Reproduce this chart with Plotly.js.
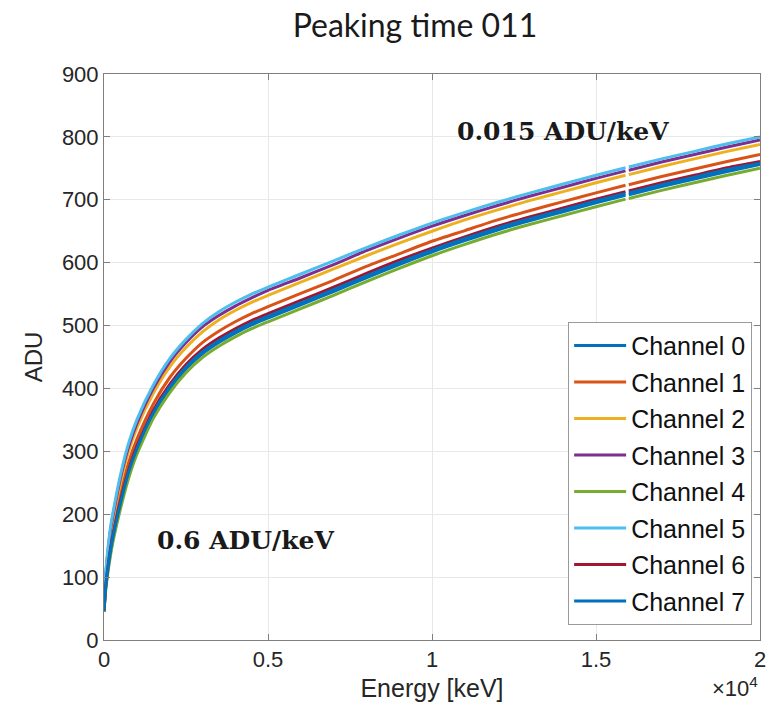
<!DOCTYPE html>
<html>
<head>
<meta charset="utf-8">
<script src="https://cdn.plot.ly/plotly-3.0.1.min.js"></script>
<style>html,body{margin:0;padding:0;background:#fff;}#chart{width:770px;height:717px;}</style>
</head>
<body>
<div id="chart"></div>
<script>
// Energy sample points [keV] (null in each series marks the small white gap seen in the reference)
const energy = [0, 50, 100, 200, 300, 500, 750, 1000, 1500, 2000, 2500, 3000, 3500, 4000, 4500, 5000, 6000, 7000, 8000, 9000, 10000, 11000, 12000, 13000, 14000, 15000, 15900, 15950, 16000, 17000, 18000, 19000, 20000];

const channelNames = ["Channel 0", "Channel 1", "Channel 2", "Channel 3", "Channel 4", "Channel 5", "Channel 6", "Channel 7"];
const channelColors = ["#0072BD", "#D95319", "#EDB120", "#7E2F8E", "#77AC30", "#4DBEEE", "#A2142F", "#0072BD"];

const ch0 = [45, 81, 104, 140, 168, 214, 263, 301, 358, 399, 431, 455, 473, 488, 501, 512, 533, 554, 576, 597, 617, 635, 652, 667, 681, 695, 707, null, 708, 721, 733, 745, 756];
const ch1 = [46, 90, 115, 155, 184, 232, 282, 319, 375, 417, 448, 473, 491, 506, 519, 530, 551, 572, 594, 614, 634, 651, 668, 683, 697, 711, 723, null, 724, 737, 749, 761, 772];
const ch2 = [47, 99, 127, 169, 199, 249, 300, 337, 392, 434, 465, 490, 509, 524, 537, 548, 569, 590, 611, 631, 650, 668, 684, 699, 713, 727, 739, null, 740, 753, 765, 777, 788];
const ch3 = [48, 102, 131, 175, 205, 257, 307, 344, 400, 442, 473, 498, 516, 531, 544, 556, 576, 597, 619, 639, 658, 675, 691, 706, 720, 734, 746, null, 747, 760, 772, 784, 795];
const ch4 = [45, 78, 100, 135, 163, 208, 257, 295, 352, 393, 425, 449, 467, 482, 495, 506, 527, 548, 570, 591, 611, 629, 646, 661, 675, 689, 701, null, 702, 715, 727, 739, 750];
const ch5 = [48, 105, 135, 180, 210, 262, 313, 350, 405, 447, 478, 503, 522, 537, 550, 561, 582, 603, 624, 644, 663, 680, 696, 711, 725, 739, 751, null, 752, 765, 777, 789, 800];
const ch6 = [46, 85, 108, 146, 174, 221, 270, 308, 365, 406, 438, 462, 480, 495, 508, 519, 540, 561, 583, 604, 623, 641, 658, 673, 687, 701, 713, null, 714, 727, 739, 751, 761];
const ch7 = [46, 83, 106, 143, 171, 217, 267, 304, 361, 402, 434, 458, 476, 491, 504, 515, 536, 557, 579, 600, 620, 638, 655, 670, 684, 698, 710, null, 711, 724, 736, 748, 758];

const xTickVals = [0, 5000, 10000, 15000, 20000];
const xTickText = ["0", "0.5", "1", "1.5", "2"];
const yTickVals = [0, 100, 200, 300, 400, 500, 600, 700, 800, 900];

const series = [ch0, ch1, ch2, ch3, ch4, ch5, ch6, ch7];

const traces = series.map((ys, i) => ({
  type: "scatter",
  mode: "lines",
  x: energy,
  y: ys,
  name: channelNames[i],
  legendgroup: "g" + i,
  connectgaps: false,
  line: {color: channelColors[i], width: 3, shape: "spline", smoothing: 0.6}
}));

const tickFont = {family: "Liberation Sans, Arial, sans-serif", size: 22, color: "#262626"};
const titleFont = {family: "Liberation Sans, Arial, sans-serif", size: 25, color: "#262626"};

const layout = {
  width: 770,
  height: 717,
  margin: {l: 104, r: 10, t: 74, b: 77},
  paper_bgcolor: "#ffffff",
  plot_bgcolor: "#ffffff",
  showlegend: true,
  title: {
    text: "Peaking time 011",
    font: {family: "Lato, Carlito, sans-serif", size: 32, color: "#1a1a1a"},
    x: 0.474, xref: "paper", xanchor: "center",
    y: 0.964, yref: "container", yanchor: "middle"
  },
  xaxis: {
    range: [0, 20000],
    tickvals: xTickVals,
    ticktext: xTickText,
    ticks: "inside",
    ticklen: 6,
    tickcolor: "#7f7f7f",
    showline: true,
    linecolor: "#7f7f7f",
    linewidth: 1,
    mirror: "ticks",
    showgrid: true,
    gridcolor: "#e8e8e8",
    zeroline: false,
    tickfont: tickFont,
    title: {text: "Energy [keV]", font: titleFont, standoff: 8}
  },
  yaxis: {
    range: [0, 900],
    tickvals: yTickVals,
    ticks: "inside",
    ticklen: 6,
    tickcolor: "#7f7f7f",
    showline: true,
    linecolor: "#7f7f7f",
    linewidth: 1,
    mirror: "ticks",
    showgrid: true,
    gridcolor: "#e8e8e8",
    zeroline: false,
    tickfont: tickFont,
    title: {text: "ADU", font: {family: "Liberation Sans, Arial, sans-serif", size: 24, color: "#262626"}, standoff: 12}
  },
  legend: {
    x: 0.988, xanchor: "right",
    y: 0.027, yanchor: "bottom",
    bgcolor: "#ffffff",
    bordercolor: "#9a9a9a",
    borderwidth: 1,
    itemwidth: 52,
    font: {family: "Liberation Sans, Arial, sans-serif", size: 25, color: "#111111"},
    tracegroupgap: 1
  },
  annotations: [
    {
      text: "<b>0.015 ADU/keV</b>",
      x: 10700, y: 809, xref: "x", yref: "y",
      xanchor: "left", yanchor: "middle", showarrow: false,
      font: {family: "DejaVu Serif, serif", size: 25, color: "#1a1a1a"}
    },
    {
      text: "<b>0.6 ADU/keV</b>",
      x: 1550, y: 159, xref: "x", yref: "y",
      xanchor: "left", yanchor: "middle", showarrow: false,
      font: {family: "DejaVu Serif, serif", size: 25, color: "#1a1a1a"}
    },
    {
      text: "×10<sup>4</sup>",
      x: 1.0, y: -0.083, xref: "paper", yref: "paper",
      xanchor: "right", yanchor: "middle", showarrow: false,
      font: {family: "Liberation Sans, Arial, sans-serif", size: 22, color: "#262626"}
    }
  ]
};

Plotly.newPlot("chart", traces, layout, {displayModeBar: false, staticPlot: true});
</script>
</body>
</html>
